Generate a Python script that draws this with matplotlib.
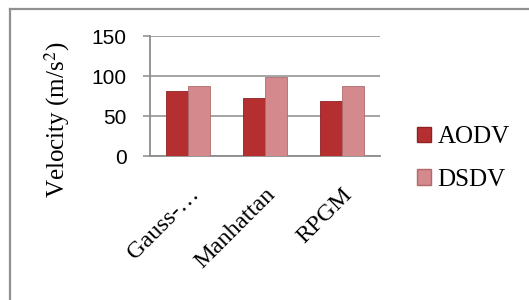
import matplotlib
matplotlib.use('Agg')
import numpy as np
import matplotlib.pyplot as plt
from matplotlib.lines import Line2D
from matplotlib.patches import Patch

categories = ['Gauss-…', 'Manhattan', 'RPGM']
aodv = [81, 73, 69]
dsdv = [87, 99, 87]
y_ticks = [0, 50, 100, 150]

C_AODV = '#b52f30'
C_DSDV = '#d4898c'
GRID = '#8c8c8c'

fig = plt.figure(figsize=(5.29, 3.0), dpi=100)
ax = fig.add_axes([150 / 529, 1 - 156 / 300, 230 / 529, 120 / 300])

x = np.arange(len(categories))
w = 0.287
ax.bar(x - w / 2, aodv, w, color=C_AODV, edgecolor='#8e2224', linewidth=0.6, zorder=3, label='AODV')
ax.bar(x + w / 2, dsdv, w, color=C_DSDV, edgecolor='#b06a6d', linewidth=0.6, zorder=3, label='DSDV')

ax.set_xlim(-0.5, 2.5)
ax.set_ylim(0, 150)
ax.set_yticks(y_ticks)
ax.set_yticklabels([str(v) for v in y_ticks], fontsize=15, family='Liberation Sans')
ax.set_xticks(x)
ax.set_xticklabels(categories, rotation=45, ha='right', rotation_mode='anchor',
                   fontsize=17.5, family='Liberation Serif')
ax.tick_params(axis='x', length=0, pad=20)
ax.tick_params(axis='y', length=5, width=1.1, color=GRID, pad=12)

ax.yaxis.grid(True, color=GRID, linewidth=1.1, zorder=0)
ax.set_axisbelow(True)
for s in ['top', 'right']:
    ax.spines[s].set_visible(False)
for s in ['left', 'bottom']:
    ax.spines[s].set_color(GRID)
    ax.spines[s].set_linewidth(1.3)

fig.text(57 / 529, 1 - 120 / 300, 'Velocity (m/s$^2$)', rotation=90, ha='center', va='center',
         fontsize=18, family='Liberation Serif', math_fontfamily='stix')

handles = [Patch(facecolor=C_AODV, edgecolor='#8e2224', label='AODV'),
           Patch(facecolor=C_DSDV, edgecolor='#b06a6d', label='DSDV')]
fig.legend(handles=handles, loc='upper left', bbox_to_anchor=(417 / 529, 1 - 126 / 300),
           frameon=False, prop={'family': 'Liberation Serif', 'size': 18},
           handlelength=0.56, handleheight=0.56, handletextpad=0.25, labelspacing=0.83,
           borderaxespad=0, borderpad=0)

# outer chart border (top and left visible)
fig.add_artist(Line2D([9.5 / 529, 9.5 / 529], [0, 1 - 8.5 / 300], color='#909090',
                      linewidth=1.6, transform=fig.transFigure))
fig.add_artist(Line2D([9.5 / 529, 1], [1 - 8.5 / 300, 1 - 8.5 / 300], color='#909090',
                      linewidth=1.6, transform=fig.transFigure))

fig.savefig('out.png', dpi=100, facecolor='white')
